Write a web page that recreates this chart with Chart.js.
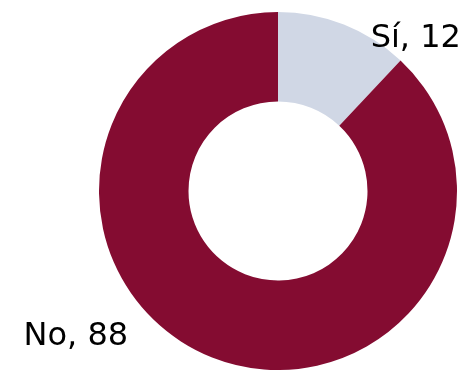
<!DOCTYPE html>
<html>
<head>
<meta charset="utf-8">
<script src="https://cdn.jsdelivr.net/npm/chart.js@4"></script>
<style>
  html, body { margin: 0; padding: 0; background: #fff; }
  #wrap { width: 463px; height: 370px; }
</style>
</head>
<body>
<div id="wrap"><canvas id="myChart" width="463" height="370"></canvas></div>
<script>
'use strict'

// data
const categories = ['Sí', 'No'];
const values = [12, 88];
const sliceColors = ['#d0d7e5', '#840c31'];

// labels "Sí, 12" / "No, 88" drawn beside the slices (right edge anchored)
const outsideLabels = {
  id: 'outsideLabels',
  afterDatasetsDraw(chart) {
    const ctx = chart.ctx;
    const arcs = chart.getDatasetMeta(0).data;
    ctx.save();
    ctx.font = '32px "DejaVu Sans"';
    ctx.fillStyle = '#000';
    ctx.textBaseline = 'alphabetic';
    ctx.textAlign = 'right';
    arcs.forEach(function (arc, i) {
      const mid = (arc.startAngle + arc.endAngle) / 2;
      const r = arc.outerRadius;
      let x = arc.x + Math.cos(mid) * r;
      let y = arc.y + Math.sin(mid) * r;
      const text = categories[i] + ', ' + values[i];
      if (Math.cos(mid) >= 0) {
        x += 117;
        y += 22;
      } else {
        x -= 84;
        y -= 12;
      }
      ctx.fillText(text, x, y);
    });
    ctx.restore();
  }
};

const ctx = document.getElementById('myChart').getContext('2d');
const myChart = new Chart(ctx, {
  type: 'doughnut',
  data: {
    labels: categories,
    datasets: [{
      data: values,
      backgroundColor: sliceColors,
      borderWidth: 0
    }]
  },
  options: {
    responsive: false,
    animation: false,
    cutout: '50%',
    layout: { padding: { top: 12, bottom: 0, left: 99, right: 6 } },
    plugins: {
      legend: { display: false },
      tooltip: { enabled: false }
    }
  },
  plugins: [outsideLabels]
});
</script>
</body>
</html>
